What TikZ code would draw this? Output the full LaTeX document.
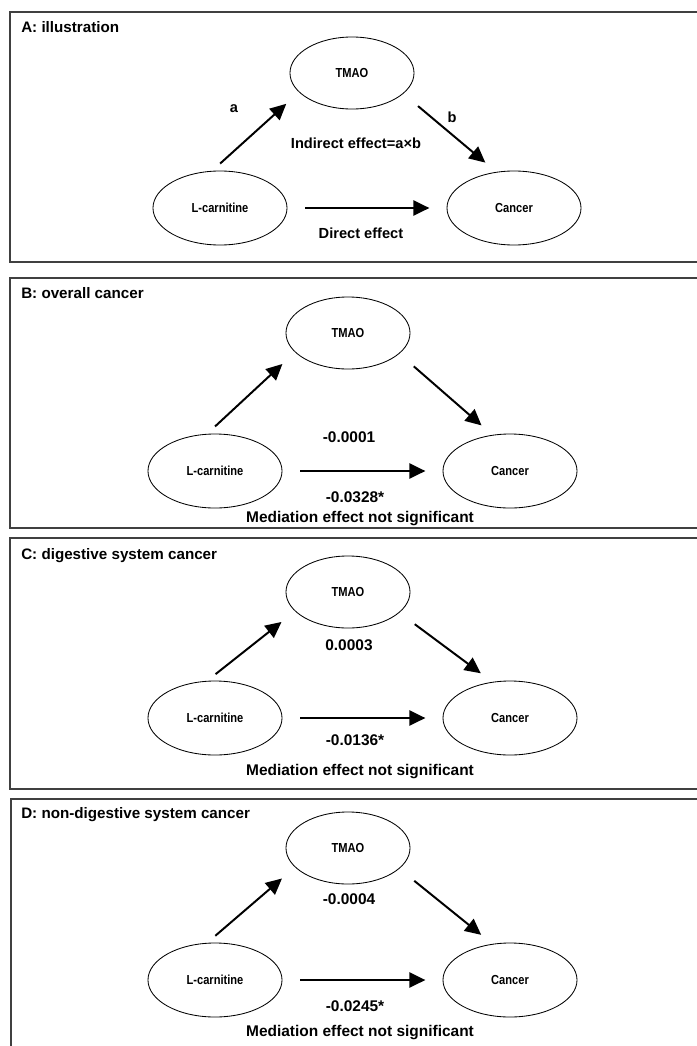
\documentclass[tikz,border=0pt]{standalone}
\usepackage{fontspec}
\setmainfont{Liberation Sans}
\newfontfamily\narrowsans{Liberation Sans}[FakeStretch=0.85]
\usetikzlibrary{arrows.meta,positioning,shapes.geometric}

\begin{document}
\begin{tikzpicture}[
    x=0.025cm, y=-0.025cm,
    frame/.style={draw=black!75, line width=1pt},
    title/.style={anchor=west, inner sep=0pt, font=\bfseries\fontsize{10.8}{12}\selectfont},
    var/.style={draw, ellipse, line width=0.6pt, minimum width=3.35cm, minimum height=1.85cm, font=\narrowsans\bfseries\fontsize{9.3}{11}\selectfont},
    med/.style={var, minimum width=3.1cm, minimum height=1.8cm},
    arr/.style={-{Triangle[length=0.4cm, width=0.38cm]}, line width=1.4pt},
    lbl/.style={inner sep=0pt, font=\bfseries\fontsize{10.4}{12}\selectfont},
    num/.style={inner sep=0pt, font=\bfseries\fontsize{11}{13}\selectfont},
  ]
  \useasboundingbox (0,0) rectangle (697,1046);

  % A: illustration
  \draw[frame] (697,12) -| (10,262) -- (697,262);
  \node[title] (titleA) at (21,27) {A: illustration};
  \node[med] (tmaoA) at (352,73) {TMAO};
  \node[var] (lcarA) at (220,208) {L-carnitine};
  \node[var] (cancA) at (514,208) {Cancer};
  \draw[arr, shorten <=0.27cm, shorten >=0.43cm] (lcarA.102) -- (tmaoA.200);
  \draw[arr, shorten <=0.48cm, shorten >=0.36cm] (tmaoA.-22) -- (cancA.116);
  \draw[arr, shorten <=0.45cm, shorten >=0.43cm] (lcarA) -- (cancA);
  \node[lbl] (pathA) at (234,109) {a};
  \node[lbl] (pathB) at (452,117) {b};
  \node[lbl] (indA) at (356,143) {Indirect effect=a×b};
  \node[lbl] (dirA) at (361,233) {Direct effect};

  % B: overall cancer
  \draw[frame] (697,278) -| (10,528) -- (697,528);
  \node[title] (titleB) at (21,293) {B: overall cancer};
  \node[med] (tmaoB) at (348,333) {TMAO};
  \node[var] (lcarB) at (215,471) {L-carnitine};
  \node[var] (cancB) at (510,471) {Cancer};
  \draw[arr, shorten <=0.27cm, shorten >=0.43cm] (lcarB.102) -- (tmaoB.200);
  \draw[arr, shorten <=0.48cm, shorten >=0.36cm] (tmaoB.-22) -- (cancB.116);
  \draw[arr, shorten <=0.45cm, shorten >=0.43cm] (lcarB) -- (cancB);
  \node[num] (indB) at (349,437) {-0.0001};
  \node[num] (dirB) at (355,497) {-0.0328*};
  \node[num] (sigB) at (360,519) {Mediation effect not significant};

  % C: digestive system cancer
  \draw[frame] (697,538) -| (10,789) -- (697,789);
  \node[title] (titleC) at (21,556) {C: digestive system cancer};
  \node[med] (tmaoC) at (348,592) {TMAO};
  \node[var] (lcarC) at (215,718) {L-carnitine};
  \node[var] (cancC) at (510,718) {Cancer};
  \draw[arr, shorten <=0.27cm, shorten >=0.43cm] (lcarC.102) -- (tmaoC.200);
  \draw[arr, shorten <=0.48cm, shorten >=0.36cm] (tmaoC.-22) -- (cancC.116);
  \draw[arr, shorten <=0.45cm, shorten >=0.43cm] (lcarC) -- (cancC);
  \node[num] (indC) at (349,645) {0.0003};
  \node[num] (dirC) at (355,740) {-0.0136*};
  \node[num] (sigC) at (360,772) {Mediation effect not significant};

  % D: non-digestive system cancer
  \draw[frame] (697,799) -| (11,1050);
  \node[title] (titleD) at (21,815) {D: non-digestive system cancer};
  \node[med] (tmaoD) at (348,848) {TMAO};
  \node[var] (lcarD) at (215,980) {L-carnitine};
  \node[var] (cancD) at (510,980) {Cancer};
  \draw[arr, shorten <=0.27cm, shorten >=0.43cm] (lcarD.102) -- (tmaoD.200);
  \draw[arr, shorten <=0.48cm, shorten >=0.36cm] (tmaoD.-22) -- (cancD.116);
  \draw[arr, shorten <=0.45cm, shorten >=0.43cm] (lcarD) -- (cancD);
  \node[num] (indD) at (349,899) {-0.0004};
  \node[num] (dirD) at (355,1006) {-0.0245*};
  \node[num] (sigD) at (360,1033) {Mediation effect not significant};
\end{tikzpicture}
\end{document}
